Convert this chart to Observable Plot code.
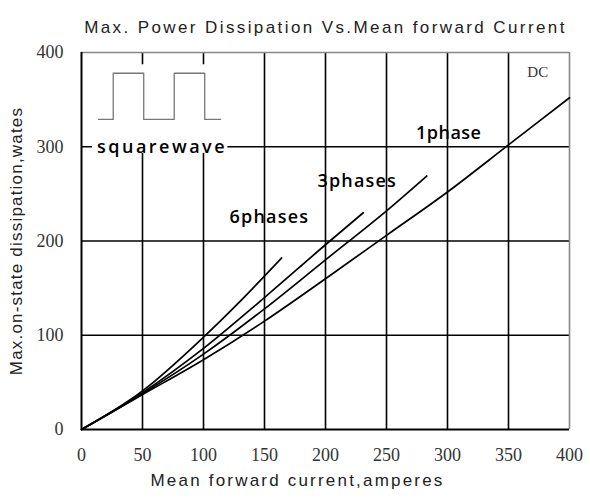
<!DOCTYPE html>
<html>
<head>
<meta charset="utf-8">
<script src="https://cdn.jsdelivr.net/npm/d3@7"></script>
<script src="https://cdn.jsdelivr.net/npm/@observablehq/plot@0.6"></script>
<style>
  html, body { margin: 0; padding: 0; background: #fff; }
</style>
</head>
<body>
<div id="chart"></div>
<script>
// ---- data ----
const titleText = "Max. Power Dissipation Vs.Mean forward Current";
const xLabel = "Mean forward current,amperes";
const yLabel = "Max.on-state dissipation,wates";

const xTicks = [0, 50, 100, 150, 200, 250, 300, 350, 400];
const yTicks = [0, 100, 200, 300, 400];

const seriesNames = ["DC", "1phase", "3phases", "6phases"];
const dcX = [0, 50, 100, 150, 200, 250, 300, 350, 400];
const dcY = [0, 37, 74, 115, 160, 206, 252, 302, 352];
const p1X = [0, 50, 100, 150, 200, 250, 283];
const p1Y = [0, 38, 80, 128, 180, 232, 269];
const p3X = [0, 50, 100, 150, 200, 231];
const p3Y = [0, 39, 86, 140, 196, 230];
const p6X = [0, 50, 100, 130, 164];
const p6Y = [0, 41, 98, 136, 182];

const labelText = ["DC", "1phase", "3phases", "6phases", "squarewave"];
const labelX = [374, 301, 226, 154, 66];
const labelY = [379, 314, 263, 225, 300];

// square-wave inset (data units)
const waveX = [14, 26, 26, 51, 51, 76, 76, 101, 101, 114];
const waveY = [329, 329, 378, 378, 329, 329, 378, 378, 329, 329];
const insetX = [9, 120];
const insetY = [293, 387];

// ---- build ----
const curves = [];
[[dcX, dcY], [p1X, p1Y], [p3X, p3Y], [p6X, p6Y]].forEach(([xs, ys], i) => {
  xs.forEach((x, j) => curves.push({series: seriesNames[i], x, y: ys[j]}));
});
const wave = waveX.map((x, i) => ({x, y: waveY[i]}));
const labels = labelText.map((t, i) => ({text: t, x: labelX[i], y: labelY[i]}));

const sans = "'Liberation Sans', Arial, sans-serif";
const serif = "'Liberation Serif', 'Times New Roman', serif";
const labelFont = "'Open Sans', 'Noto Sans', sans-serif";

const chart = Plot.plot({
  width: 590,
  height: 501,
  marginLeft: 81,
  marginRight: 21,
  marginTop: 52,
  marginBottom: 72,
  x: {domain: [0, 400], axis: null},
  y: {domain: [0, 400], axis: null},
  style: {background: "#fff"},
  marks: [
    Plot.ruleX(xTicks.filter(d => d > 0 && d < 400), {stroke: "#000", strokeWidth: 1.6}),
    Plot.ruleY(yTicks.filter(d => d > 0 && d < 400), {stroke: "#000", strokeWidth: 1.6}),
    Plot.ruleY([400], {stroke: "#888", strokeWidth: 1.6}),
    Plot.ruleX([400], {stroke: "#888", strokeWidth: 1.6}),
    Plot.ruleX([0], {stroke: "#000", strokeWidth: 2}),
    Plot.ruleY([0], {stroke: "#000", strokeWidth: 2}),
    Plot.rect([{}], {x1: insetX[0], x2: insetX[1], y1: insetY[0], y2: insetY[1], fill: "#fff"}),
    Plot.line(wave, {x: "x", y: "y", stroke: "#777", strokeWidth: 1.3}),
    Plot.line(curves, {x: "x", y: "y", z: "series", curve: "monotone-x", stroke: "#000", strokeWidth: 1.7}),
    Plot.text(labels.filter(d => d.text !== "DC"), {x: "x", y: "y", text: "text", fontSize: 18, fontWeight: 600, fontFamily: labelFont, fill: "#000"}),
    Plot.text(labels.filter(d => d.text === "DC"), {x: "x", y: "y", text: "text", fontSize: 15, fontFamily: serif, fill: "#333"}),
    Plot.text(xTicks, {x: d => d, y: 0, dy: 26, text: d => String(d), fontSize: 18, fontFamily: serif, fill: "#333"}),
    Plot.text(yTicks, {x: 0, y: d => d, dx: -18, text: d => String(d), textAnchor: "end", fontSize: 18, fontFamily: serif, fill: "#333"}),
    Plot.text([titleText], {frameAnchor: "top", dy: -32, text: d => d, fontSize: 17, fontFamily: sans, fill: "#222"}),
    Plot.text([xLabel], {frameAnchor: "bottom", dy: 56, dx: -28, text: d => d, fontSize: 17, fontFamily: sans, fill: "#222"}),
    Plot.text([yLabel], {frameAnchor: "left", dx: -65, rotate: -90, textAnchor: "middle", text: d => d, fontSize: 17, fontFamily: sans, fill: "#222"})
  ]
});
const svg = d3.select(chart);
const spacing = {[titleText]: 2.4, [xLabel]: 2.2, [yLabel]: 1.2, "squarewave": 2.5, "3phases": 1.2, "6phases": 1.2, "1phase": 0.5};
svg.selectAll("text").each(function () {
  const s = spacing[this.textContent];
  if (s) this.setAttribute("letter-spacing", s);
});
document.getElementById("chart").appendChild(chart);
</script>
</body>
</html>
